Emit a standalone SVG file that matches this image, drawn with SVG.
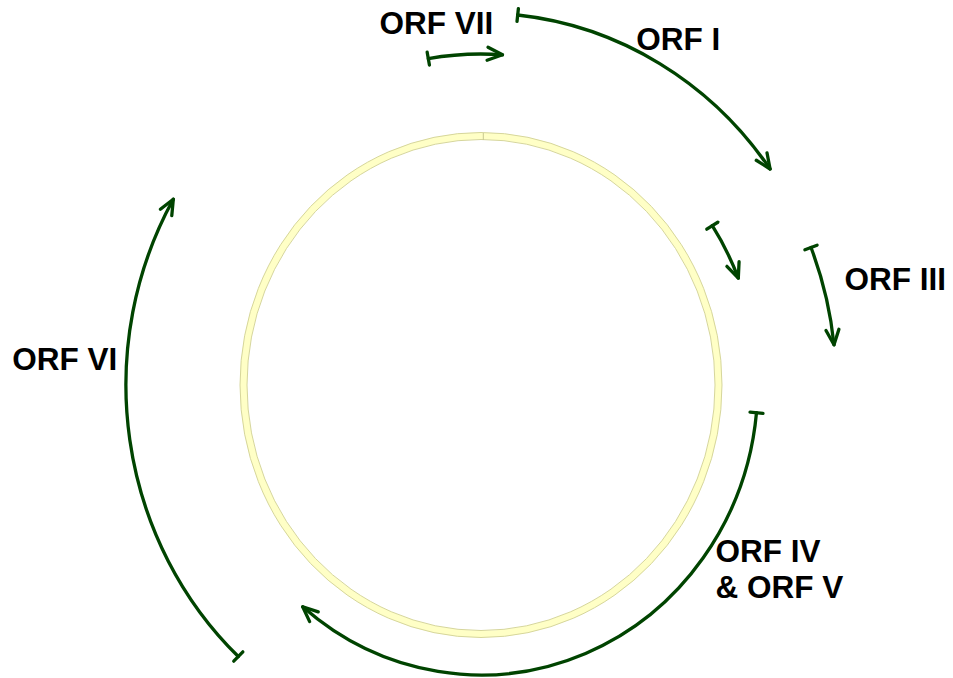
<svg xmlns="http://www.w3.org/2000/svg" width="953" height="678" viewBox="0 0 953 678">
  <style>
    .lbl { font-family: "Liberation Sans", Arial, sans-serif; font-weight: bold; font-size: 31.5px; fill: #000000; }
    .orf { fill: none; stroke: #004400; stroke-width: 3.3; stroke-linecap: round; marker-start: url(#tick); marker-end: url(#chev); }
    .band { fill: none; stroke: #ffffc6; stroke-width: 7; }
    .edge { fill: none; stroke: #d6d69c; stroke-width: 1; }
  </style>
  <defs>
    <marker id="chev" markerUnits="userSpaceOnUse" viewBox="-18 -10 22 20" refX="0" refY="0" markerWidth="22" markerHeight="20" orient="auto" overflow="visible">
      <path d="M-15,-6.5 L0,0 L-15,6.5" fill="none" stroke="#004400" stroke-width="3.3" stroke-linecap="round" stroke-linejoin="round"/>
    </marker>
    <marker id="tick" markerUnits="userSpaceOnUse" viewBox="-4 -10 8 20" refX="0" refY="0" markerWidth="8" markerHeight="20" orient="auto" overflow="visible">
      <path d="M0,-6.5 L0,6.5" fill="none" stroke="#004400" stroke-width="3.3" stroke-linecap="round"/>
    </marker>
  </defs>
  <rect x="0" y="0" width="953" height="678" fill="#ffffff"/>

  <g id="genome">
    <ellipse class="band" cx="481" cy="385" rx="237.5" ry="249"/>
    <ellipse class="edge" cx="481" cy="385" rx="241" ry="252.5"/>
    <ellipse class="edge" cx="481" cy="385" rx="234" ry="245.5"/>
    <line x1="483.3" y1="133" x2="483.3" y2="140" stroke="#c8c890" stroke-width="1"/>
  </g>

  <g id="connectors">
    <path id="arc-orf7" class="orf" d="M428.3,58.6 A315.9,331 0 0 1 502.5,54.8"/>
    <path id="arc-orf1" class="orf" d="M517.7,15 A355.1,372 0 0 1 770.1,169"/>
    <path id="arc-small" class="orf" d="M712.3,225.7 A276.8,290 0 0 1 738.3,278.1"/>
    <path id="arc-orf3" class="orf" d="M811,247.5 A355.1,372 0 0 1 834,344.8"/>
    <path id="arc-orf45" class="orf" d="M756.5,412.7 A276.8,290 0 0 1 302.7,606.8"/>
    <path id="arc-orf6" class="orf" d="M238.3,656.5 A355.1,372 0 0 1 173.3,199.3"/>
  </g>

  <g id="label-orf7"><text class="lbl" x="379.5" y="34.3">ORF VII</text></g>
  <g id="label-orf1"><text class="lbl" x="636.2" y="50">ORF I</text></g>
  <g id="label-orf3"><text class="lbl" x="844.5" y="290">ORF III</text></g>
  <g id="label-orf45"><text class="lbl" x="715.5" y="561.7">ORF IV</text><text class="lbl" x="715.5" y="598.3">&amp; ORF V</text></g>
  <g id="label-orf6"><text class="lbl" x="12.2" y="370">ORF VI</text></g>
</svg>
